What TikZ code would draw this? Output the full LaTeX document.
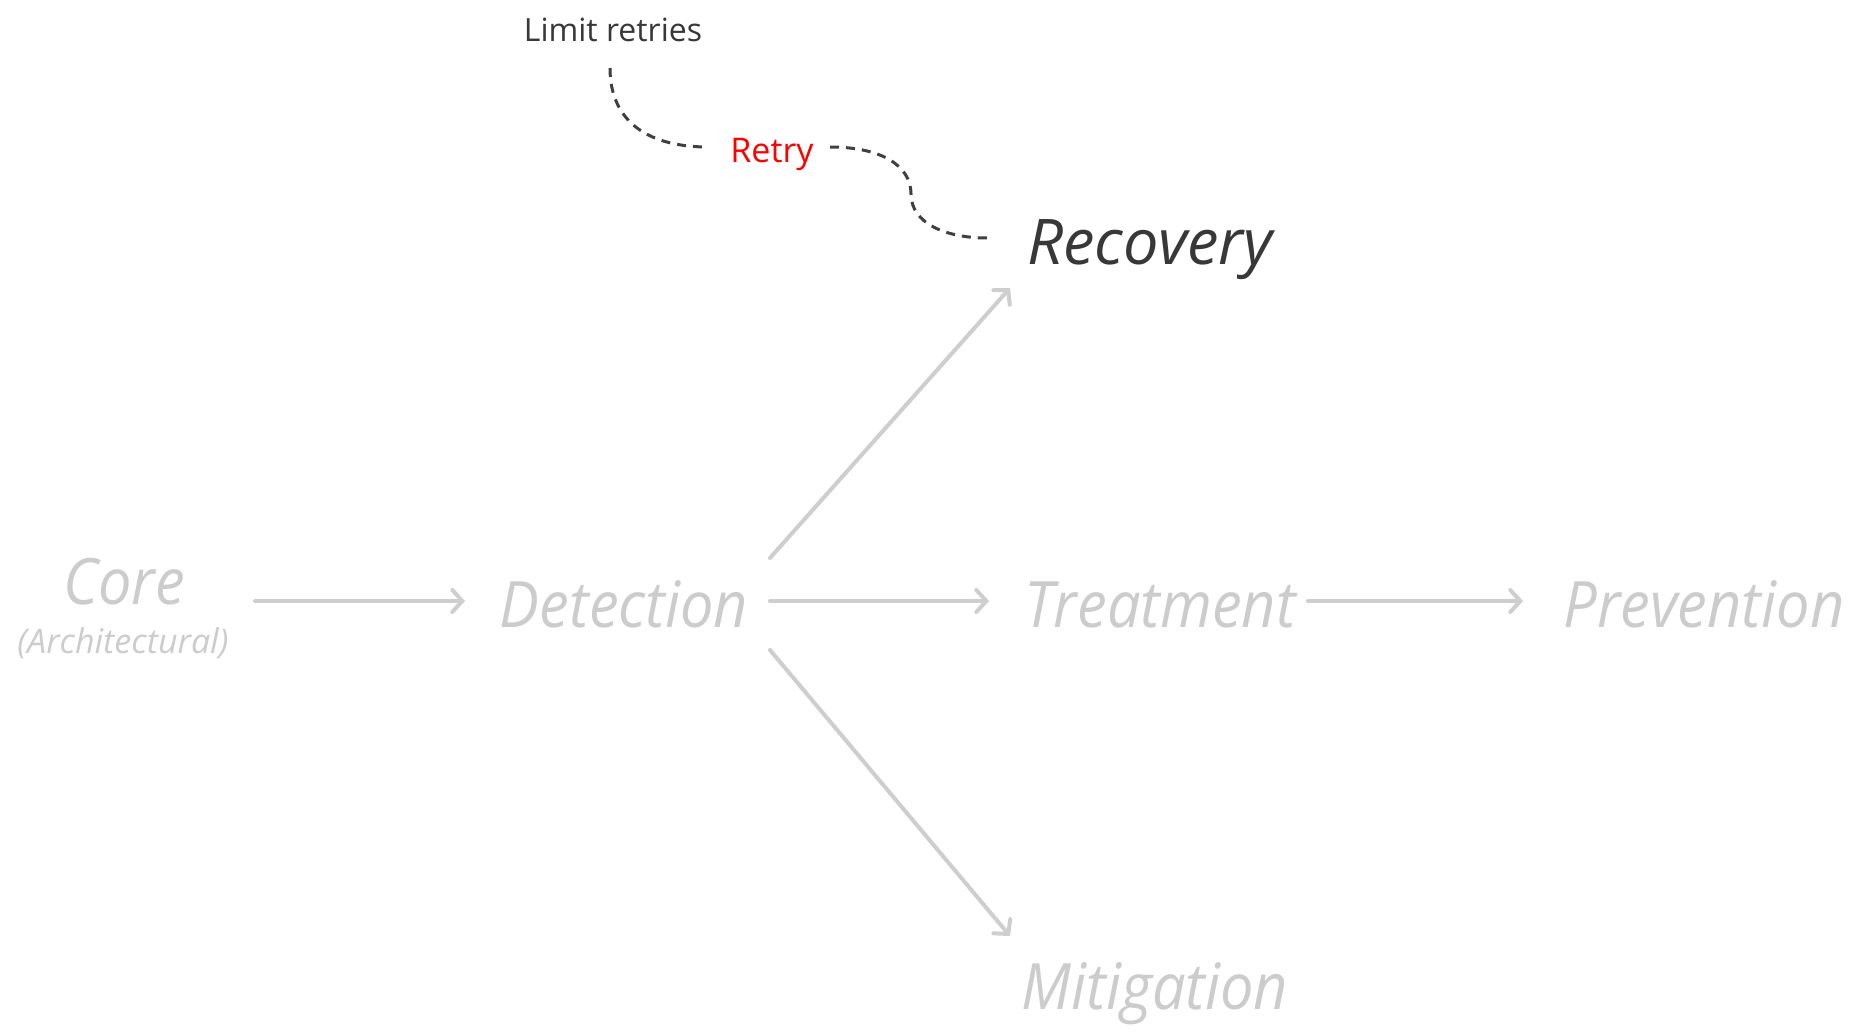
\documentclass[tikz,border=0pt]{standalone}
\usepackage{fontspec}
\setmainfont{Open Sans}
\newfontfamily\stagefont{Open Sans}[FakeStretch=0.93]
\usetikzlibrary{arrows.meta}
\definecolor{stagegray}{RGB}{204,204,204}
\definecolor{arrowgray}{RGB}{206,206,206}
\definecolor{darktext}{RGB}{56,56,56}
\definecolor{dashgray}{RGB}{64,64,64}
\definecolor{retryred}{RGB}{255,0,0}
\tikzset{
  stage/.style={anchor=base, inner sep=0pt, text=stagegray, font=\stagefont\fontsize{64}{77}\selectfont\itshape},
  active/.style={anchor=base, inner sep=0pt, text=darktext, font=\fontsize{63}{75}\selectfont\itshape},
  subnote/.style={anchor=base, inner sep=0pt, text=stagegray, font=\fontsize{34}{40}\selectfont\itshape},
  smalllabel/.style={anchor=base, inner sep=0pt, text=darktext, font=\fontsize{32}{38}\selectfont},
  redlabel/.style={anchor=base, inner sep=0pt, text=retryred, font=\fontsize{34}{40}\selectfont},
  flowarrow/.style={draw=arrowgray, line width=4pt, line cap=round,
    -{Straight Barb[length=10pt,width=22pt,line cap=round]}},
  dashlink/.style={draw=dashgray, line width=3pt, dash pattern=on 9pt off 7pt}
}
\begin{document}
\begin{tikzpicture}[x=1pt,y=-1pt]
\useasboundingbox[fill=white] (0,0) rectangle (1862,1033);

% nodes
\node[stage]      (core)       at (124,604)  {Core};
\node[subnote]    (arch)       at (123,653)  {(Architectural)};
\node[stage]      (detection)  at (624,627)  {Detection};
\node[stage]      (treatment)  at (1160,627) {Treatment};
\node[stage]      (prevention) at (1704,627) {Prevention};
\node[stage]      (mitigation) at (1155,1009) {Mitigation};
\node[active]     (recovery)   at (1150,264) {Recovery};
\node[smalllabel] (limit)      at (613,42)   {Limit retries};
\node[redlabel]   (retry)      at (772,162)  {Retry};

% flow arrows
\draw[flowarrow] ([xshift=131pt,yshift=3pt]core.base) -- ([xshift=-159pt,yshift=26pt]detection.base);
\draw[flowarrow] ([xshift=146pt,yshift=26pt]detection.base) -- ([xshift=-171pt,yshift=26pt]treatment.base);
\draw[flowarrow] ([xshift=148pt,yshift=26pt]treatment.base) -- ([xshift=-181pt,yshift=26pt]prevention.base);
\draw[flowarrow] ([xshift=146pt,yshift=69pt]detection.base) -- ([xshift=-140pt,yshift=-24pt]recovery.base);
\draw[flowarrow] ([xshift=146pt,yshift=-23pt]detection.base) -- ([xshift=-145pt,yshift=73pt]mitigation.base);

% dashed retry links
\coordinate (bend) at (911,194);
\draw[dashlink] ([xshift=-3pt,yshift=-26pt]limit.base) .. controls +(0,55) and +(-58,0) .. ([xshift=-64pt,yshift=15pt]retry.base);
\draw[dashlink] ([xshift=58pt,yshift=15pt]retry.base) .. controls +(52,0) and +(0,-28) .. (bend)
  .. controls +(0,30) and +(-40,0) .. ([xshift=-163pt,yshift=26pt]recovery.base);
\end{tikzpicture}
\end{document}
